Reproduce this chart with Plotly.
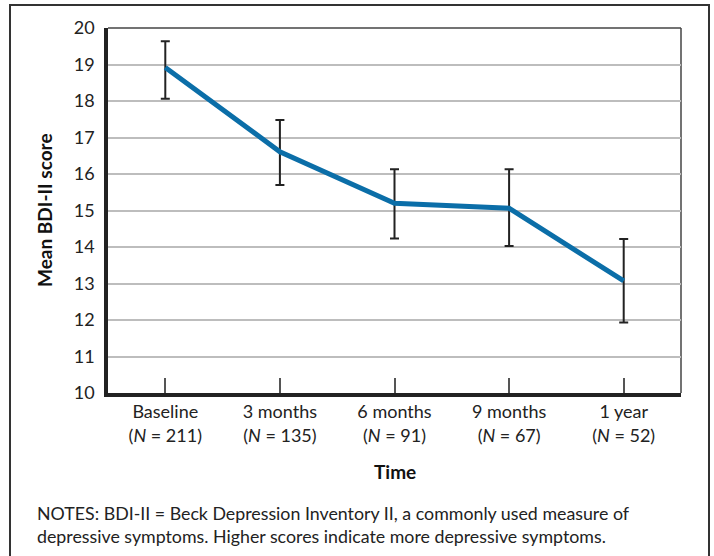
import plotly.graph_objects as go

categories = ["Baseline", "3 months", "6 months", "9 months", "1 year"]
n_values = [211, 135, 91, 67, 52]
means = [18.92, 16.61, 15.20, 15.06, 13.07]
upper = [19.64, 17.48, 16.13, 16.13, 14.22]
lower = [18.06, 15.70, 14.23, 14.03, 11.93]
y_ticks = [10, 11, 12, 13, 14, 15, 16, 17, 18, 19, 20]

FONT = "Lato"
tick_text = [f"{c}<br>(<i>N</i> = {n})" for c, n in zip(categories, n_values)]
err_plus = [u - m for u, m in zip(upper, means)]
err_minus = [m - l for m, l in zip(means, lower)]
xs = list(range(len(categories)))

fig = go.Figure()
fig.add_trace(go.Scatter(
    x=xs, y=means, mode="lines",
    line=dict(color="#0b6ea8", width=5),
    error_y=dict(type="data", symmetric=False, array=err_plus, arrayminus=err_minus,
                 color="#222222", thickness=2, width=4.5),
    showlegend=False, hoverinfo="skip",
))

L, R, T, B = 108, 33, 28, 163
W, H = 714, 556
pw, ph = W - L - R, H - T - B

def px_x(p):
    return (p - L) / pw

def px_y(p):
    return (H - B - p) / ph

fig.update_layout(
    width=W, height=H,
    margin=dict(l=L, r=R, t=T, b=B),
    paper_bgcolor="white", plot_bgcolor="white",
    font=dict(family=FONT, color="#222222"),
    xaxis=dict(
        range=[-0.5, 4.5], tickmode="array", tickvals=xs, ticktext=tick_text,
        ticks="inside", ticklen=15, tickwidth=1.5, tickcolor="#555555",
        showgrid=False, zeroline=False,
        showline=True, linecolor="#222222", linewidth=3.5,
        tickfont=dict(size=18, family=FONT, color="#222222"),
    ),
    yaxis=dict(
        range=[10, 20], tickmode="array", tickvals=y_ticks,
        showgrid=True, gridcolor="#bdbdbd", gridwidth=1.5,
        zeroline=False, ticks="", ticklabelstandoff=6,
        showline=True, linecolor="#222222", linewidth=3.5,
        tickfont=dict(size=18, family=FONT, color="#222222"),
    ),
    shapes=[
        dict(type="line", xref="paper", yref="paper", x0=0, x1=1, y0=1, y1=1,
             line=dict(color="#444444", width=1.5), layer="below"),
        dict(type="line", xref="paper", yref="paper", x0=1, x1=1, y0=0, y1=1,
             line=dict(color="#444444", width=1.5), layer="below"),
        dict(type="rect", xref="paper", yref="paper",
             x0=px_x(10), x1=px_x(709), y0=px_y(570), y1=px_y(5),
             line=dict(color="#333333", width=2)),
    ],
    annotations=[
        dict(text="<b>Mean BDI-II score</b>", xref="paper", yref="paper",
             x=px_x(45), y=px_y(210), textangle=-90, showarrow=False,
             xanchor="center", yanchor="middle",
             font=dict(size=19, family=FONT, color="#111111")),
        dict(text="<b>Time</b>", xref="paper", yref="paper",
             x=px_x(395), y=px_y(471), showarrow=False,
             xanchor="center", yanchor="middle",
             font=dict(size=19, family=FONT, color="#111111")),
        dict(text="NOTES: BDI-II = Beck Depression Inventory II, a commonly used measure of",
             xref="paper", yref="paper", x=px_x(35), y=px_y(513), xanchor="left",
             yanchor="middle", showarrow=False,
             font=dict(size=17.8, family=FONT, color="#222222")),
        dict(text="depressive symptoms. Higher scores indicate more depressive symptoms.",
             xref="paper", yref="paper", x=px_x(35), y=px_y(536), xanchor="left",
             yanchor="middle", showarrow=False,
             font=dict(size=17.8, family=FONT, color="#222222")),
    ],
)

fig.write_html("out.html", config={"displayModeBar": False},
               post_script="document.body.style.margin='0';")
